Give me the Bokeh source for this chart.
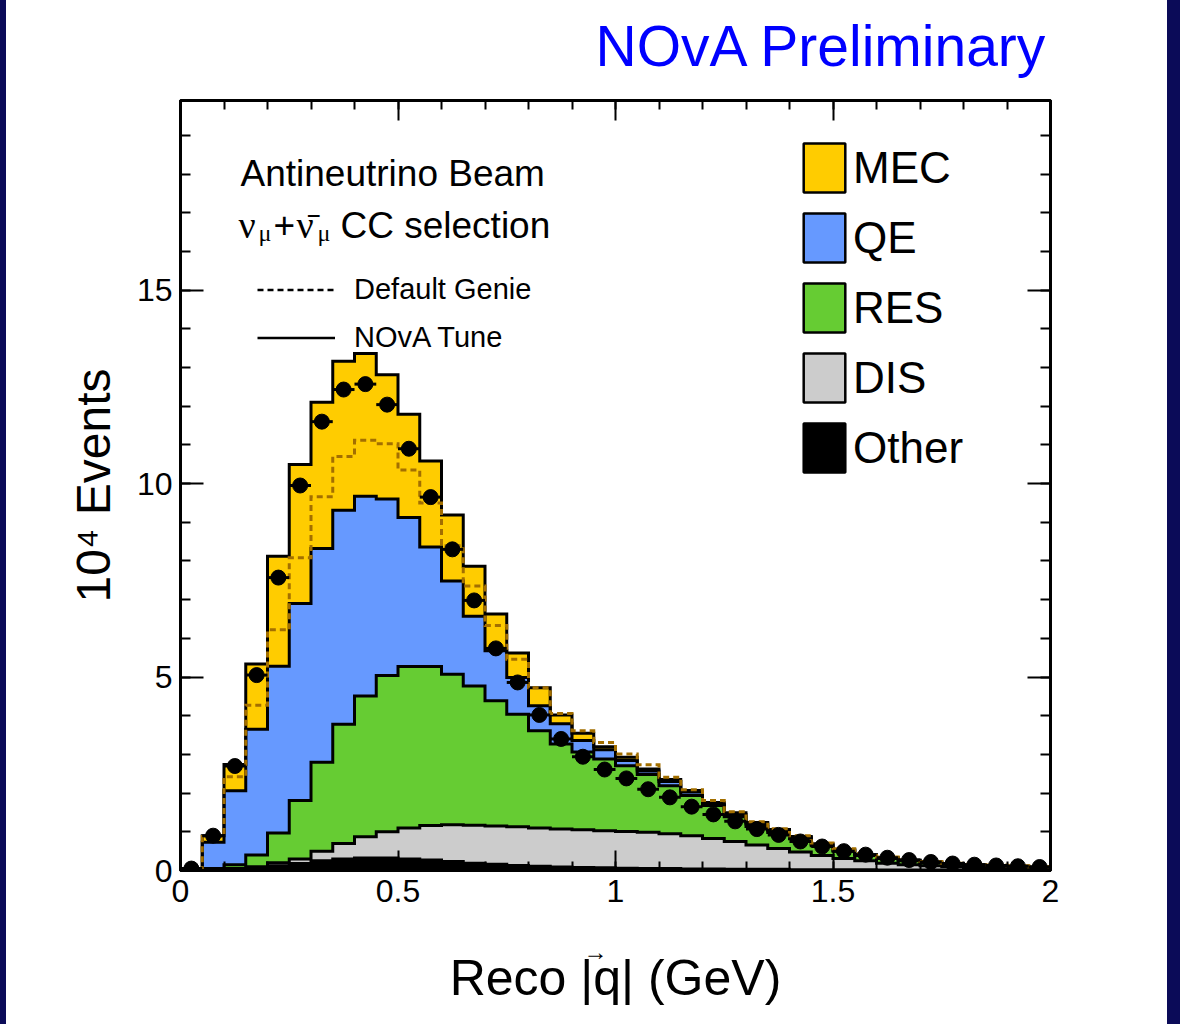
import numpy as np
from bokeh.plotting import figure
from bokeh.models import Range1d, FixedTicker, LinearAxis, Label, Legend, LegendItem, Spacer, Title
from bokeh.layouts import row
from bokeh.embed import file_html
from bokeh.resources import INLINE

# ---------------- data (10^4 events per 0.05 GeV bin of reco |q|) ----------------
bin_edges = np.linspace(0.0, 2.0, 41)

other = [0.00, 0.01, 0.03, 0.06, 0.12, 0.18, 0.25, 0.30, 0.32, 0.32,
         0.30, 0.27, 0.23, 0.19, 0.16, 0.13, 0.11, 0.09, 0.08, 0.07,
         0.06, 0.05, 0.05, 0.04, 0.04, 0.03, 0.03, 0.03, 0.02, 0.02,
         0.02, 0.02, 0.01, 0.01, 0.01, 0.01, 0.01, 0.01, 0.01, 0.01]
dis = [0.00, 0.01, 0.02, 0.04, 0.08, 0.12, 0.25, 0.40, 0.55, 0.68,
       0.80, 0.89, 0.95, 0.98, 0.99, 1.00, 0.99, 0.98, 0.97, 0.96,
       0.95, 0.94, 0.90, 0.86, 0.79, 0.72, 0.63, 0.54, 0.46, 0.37,
       0.29, 0.23, 0.18, 0.14, 0.11, 0.09, 0.07, 0.06, 0.05, 0.04]
res = [0.01, 0.03, 0.10, 0.30, 0.77, 1.51, 2.30, 3.08, 3.64, 4.04,
       4.17, 4.11, 3.89, 3.60, 3.24, 2.91, 2.51, 2.20, 2.01, 1.85,
       1.70, 1.49, 1.24, 1.04, 0.85, 0.64, 0.48, 0.41, 0.34, 0.25,
       0.19, 0.14, 0.12, 0.10, 0.08, 0.06, 0.05, 0.04, 0.035, 0.03]
qe = [0.01, 0.68, 1.91, 3.25, 4.31, 5.09, 5.52, 5.53, 5.16, 4.56,
      3.85, 3.09, 2.41, 1.80, 1.29, 0.95, 0.65, 0.52, 0.30, 0.24,
      0.13, 0.09, 0.11, 0.09, 0.04, 0.06, 0.06, 0.05, 0.04, 0.03,
      0.02, 0.01, 0.01, 0.01, 0.01, 0.01, 0.01, 0.01, 0.005, 0.005]
mec = [0.02, 0.17, 0.68, 1.69, 2.84, 3.59, 3.78, 3.85, 3.69, 3.21,
       2.67, 2.22, 1.71, 1.29, 0.95, 0.63, 0.46, 0.23, 0.19, 0.08,
       0.09, 0.05, 0.05, 0.04, 0.04, 0.04, 0.04, 0.03, 0.02, 0.02,
       0.02, 0.01, 0.01, 0.01, 0.01, 0.01, 0.01, 0.01, 0.01, 0.005]
default_genie = [0.04, 0.88, 2.42, 4.27, 6.22, 8.08, 9.66, 10.70, 11.12, 11.03,
                 10.35, 9.50, 8.39, 7.35, 6.33, 5.46, 4.72, 4.06, 3.61, 3.31,
                 3.01, 2.73, 2.41, 2.09, 1.81, 1.52, 1.26, 1.08, 0.90, 0.71,
                 0.56, 0.44, 0.35, 0.28, 0.23, 0.19, 0.16, 0.14, 0.12, 0.10]
data = [0.05, 0.90, 2.70, 5.05, 7.57, 9.95, 11.60, 12.43, 12.57, 12.04,
        10.90, 9.65, 8.30, 6.98, 5.74, 4.86, 4.02, 3.40, 2.94, 2.61,
        2.38, 2.10, 1.89, 1.65, 1.45, 1.27, 1.07, 0.92, 0.75, 0.62,
        0.50, 0.41, 0.33, 0.27, 0.22, 0.18, 0.15, 0.13, 0.11, 0.09]

x_ticks = [0, 0.5, 1, 1.5, 2]
y_ticks = [0, 5, 10, 15]

components = [("Other", other, "#000000"), ("DIS", dis, "#CCCCCC"),
              ("RES", res, "#66CC33"), ("QE", qe, "#6699FF"), ("MEC", mec, "#FFCC00")]

FONT = "Liberation Sans"
NAVY = "#0b0b58"
GENIE_COLOR = "#A36F00"

p = figure(width=1161, height=1024, x_range=Range1d(0, 2), y_range=Range1d(0, 19.9),
           output_backend="svg", toolbar_location=None,
           min_border_left=174, min_border_right=117, min_border_top=100, min_border_bottom=154)
p.xgrid.grid_line_color = None
p.ygrid.grid_line_color = None
p.background_fill_color = "white"
p.border_fill_color = "white"
p.outline_line_color = "black"
p.outline_line_width = 3

lo_e = bin_edges[:-1]
hi_e = bin_edges[1:]
centers = 0.5 * (lo_e + hi_e)


def step_path(vals):
    xs, ys = [bin_edges[0]], [0.0]
    for i, v in enumerate(vals):
        xs += [bin_edges[i], bin_edges[i + 1]]
        ys += [v, v]
    xs.append(bin_edges[-1])
    ys.append(0.0)
    return xs, ys


# stacked fills
lower = np.zeros(len(bin_edges) - 1)
tops = []
for name, vals, col in components:
    upper = lower + np.array(vals)
    p.varea_step(x=bin_edges, y1=np.append(lower, lower[-1]), y2=np.append(upper, upper[-1]),
                 step_mode="after", fill_color=col)
    tops.append(upper)
    lower = upper

# layer outlines
for upper in tops:
    xs, ys = step_path(upper)
    p.line(xs, ys, line_color="black", line_width=3, line_join="miter")

# default genie (dashed)
gx, gy = step_path(default_genie)
p.line(gx, gy, line_color=GENIE_COLOR, line_width=3, line_dash="6 4", line_join="miter")

# data points
p.segment(x0=lo_e, x1=hi_e, y0=data, y1=data, line_color="black", line_width=3)
p.scatter(x=centers, y=data, size=15, fill_color="black", line_color="black")

# ---------------- axes ----------------
xt = FixedTicker(ticks=x_ticks, minor_ticks=list(np.round(np.arange(0, 2.01, 0.1), 2)))
yt = FixedTicker(ticks=y_ticks, minor_ticks=list(range(0, 20)))


def style_axis(ax, tin, tmin, show_labels):
    ax.major_tick_in = tin
    ax.major_tick_out = 0
    ax.minor_tick_in = tmin
    ax.minor_tick_out = 0
    ax.major_tick_line_width = 2
    ax.minor_tick_line_width = 2
    ax.axis_line_width = 3
    ax.major_label_text_font = FONT
    ax.major_label_text_font_size = "32px"
    ax.major_label_text_color = "black" if show_labels else None
    ax.axis_label_text_font = FONT
    ax.axis_label_text_font_style = "normal"
    ax.axis_label_text_color = "black"


p.xaxis.ticker = xt
p.yaxis.ticker = yt
style_axis(p.xaxis[0], 20, 9, True)
style_axis(p.yaxis[0], 23, 10, True)
p.xaxis.major_label_standoff = 9
p.yaxis.major_label_standoff = 8
p.xaxis.axis_label = "Reco |q| (GeV)"
p.xaxis.axis_label_text_font_size = "50px"
p.xaxis.axis_label_standoff = 45
p.yaxis.axis_label = "10\u2074 Events"
p.yaxis.axis_label_text_font_size = "48px"
p.yaxis.axis_label_standoff = 14

top_ax = LinearAxis(ticker=xt)
style_axis(top_ax, 20, 9, False)
top_ax.major_label_text_font_size = "1px"
top_ax.major_label_standoff = 0
p.add_layout(top_ax, "above")
right_ax = LinearAxis(ticker=yt)
style_axis(right_ax, 23, 10, False)
right_ax.major_label_text_font_size = "1px"
p.add_layout(right_ax, "right")

# gap between frame and title, then the title itself
gap_title = Title(text="\u00a0", align="right", standoff=0, text_font=FONT, text_font_size="19px")
p.add_layout(gap_title, "above")
p.title.text = "NOvA Preliminary"
p.title.align = "right"
p.title.vertical_align = "bottom"
p.title.text_font = FONT
p.title.text_font_size = "57px"
p.title.text_font_style = "normal"
p.title.text_color = "#0000FF"
p.title.offset = 2
p.title.standoff = 0

# vector arrow above the q of the x-axis title
arrow_title = Title(text="\u2192", align="left", offset=403, vertical_align="top", standoff=-142,
                    text_font=FONT, text_font_size="24px", text_font_style="normal",
                    text_color="black")
p.add_layout(arrow_title, "below")

# ---------------- legends ----------------
items = []
colmap = dict((n, c) for n, _, c in components)
for name in ["MEC", "QE", "RES", "DIS", "Other"]:
    r = p.quad(left=[-5], right=[-4], top=[-5], bottom=[-6], fill_color=colmap[name],
               line_color="black", line_width=2.5)
    items.append(LegendItem(label=name, renderers=[r]))
leg = Legend(items=items, location=(618, 392), glyph_width=52, glyph_height=61,
             label_height=61, label_text_font=FONT, label_text_font_size="44px",
             label_text_color="black", label_standoff=3, spacing=9, padding=0, margin=0,
             border_line_color=None, background_fill_alpha=0)
p.add_layout(leg)

r_def = p.line(x=[-5, -4], y=[-5, -5], line_color="black", line_width=2.5, line_dash="6 4")
r_tune = p.line(x=[-5, -4], y=[-5, -5], line_color="black", line_width=2.5)
leg2 = Legend(items=[LegendItem(label="Default Genie", renderers=[r_def]),
                     LegendItem(label="NOvA Tune", renderers=[r_tune])],
              location=(77, 516), glyph_width=78, glyph_height=31, label_height=31,
              label_text_font=FONT, label_text_font_size="29px", label_text_color="black",
              label_standoff=19, spacing=15, padding=0, margin=0,
              border_line_color=None, background_fill_alpha=0)
p.add_layout(leg2)


# ---------------- text ----------------
def px2x(px):
    return (px - 180) / 435.0


def py2y(py):
    return (870 - py) / 38.69


def add_text(text, px, py, size, font=FONT, color="black", align="left"):
    p.add_layout(Label(x=px2x(px), y=py2y(py), text=text, text_font=font, text_font_size=size,
                       text_color=color, text_align=align, text_baseline="alphabetic"))


add_text("Antineutrino Beam", 240, 173, "37px")
add_text("\u03bd", 238, 225, "38px", font="Liberation Serif")
add_text("\u03bc", 258, 233, "24px", font="Liberation Serif")
add_text("+", 273, 225, "37px")
add_text("\u03bd\u0304", 296, 225, "38px", font="Liberation Serif")
add_text("\u03bc", 317, 233, "24px", font="Liberation Serif")
add_text("CC selection", 340, 225, "37px")

layout = row(Spacer(width=6, height=1024, styles={"background-color": NAVY}),
             p,
             Spacer(width=13, height=1024, styles={"background-color": NAVY}))

open("out.html", "w").write(file_html(layout, INLINE))
